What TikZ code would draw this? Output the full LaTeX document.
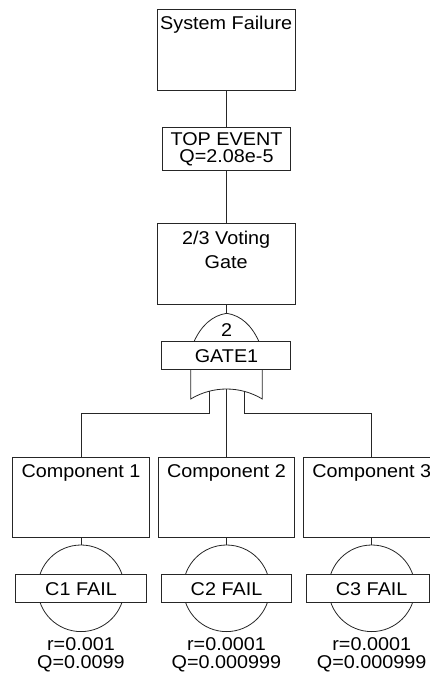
\documentclass[tikz,border=0pt]{standalone}
\usepackage{fontspec}
\setmainfont{Liberation Sans}[FakeStretch=1.07]
\begin{document}
\begin{tikzpicture}[x=1pt,y=1pt,
  line width=0.8pt, draw=black!85,
  box/.style={draw=black!85, line width=0.8pt, fill=white, rectangle, inner sep=0pt},
  txt/.style={inner sep=0pt, font=\fontsize{18.5}{17.2}\selectfont, align=center},
  lbl/.style={inner sep=0pt, font=\fontsize{18.5}{18.5}\selectfont, align=center},
  conn/.style={draw=black!85, line width=0.8pt}]
\useasboundingbox (0,0) rectangle (430,-675);
\begin{scope}
\clip (0,0) rectangle (430,-675);
% top event chain
\node[box, minimum width=137.7, minimum height=80.7] (sys) at (226.2,-50) {};
\node[txt] (syst) at (226.2,-24.5) {System Failure};
\node[box, minimum width=128.4, minimum height=43.4] (top) at (226.5,-149) {};
\node[txt] (topt) at (226.5,-149.4) {TOP EVENT\\Q=2.08e-5};
\node[box, minimum width=137.7, minimum height=80.7] (vote) at (226.2,-263.7) {};
\node[txt, font=\fontsize{18.5}{24}\selectfont] (votet) at (226.2,-249.9) {2/3 Voting\\Gate};
\coordinate (archtop) at (226.7,-313.3);
\coordinate (archL) at (194,-341.7);
\coordinate (archR) at (259,-341.7);
\draw[conn] (sys.south -| archtop) -- (top.north -| archtop);
\draw[conn] (top.south -| archtop) -- (vote.north -| archtop);
\draw[conn] (vote.south -| archtop) -- (archtop);
% gate
\draw[conn] (archL) .. controls (201,-326) and (212,-315.5) .. (archtop)
  .. controls (241.4,-315.5) and (252,-326) .. (archR);
\node[txt] (two) at (226.7,-330) {2};
\coordinate (gbL) at (190.7,-369);
\coordinate (gbR) at (262.3,-369);
\coordinate (gcL) at (190.7,-399);
\coordinate (gcR) at (262.3,-399);
\coordinate (gmid) at (226.5,-389);
\draw[conn] (gbL) -- (gcL) arc[start angle=121.2, end angle=58.8, radius=69.1] -- (gbR);
\node[box, minimum width=129, minimum height=27.3] (gate) at (226.2,-355.3) {};
\node[txt] (gatet) at (226.5,-356) {GATE1};
\coordinate (inL) at (209.3,-391.2);
\coordinate (inR) at (244,-391.2);
\coordinate (hL) at (209.3,-413.3);
\coordinate (hR) at (244,-413.3);
% components
\foreach \i/\x/\r/\q in {1/81/0.001/0.0099, 2/226.5/0.0001/0.000999, 3/371.7/0.0001/0.000999}{
  \node[box, minimum width=136.6, minimum height=80.4] (comp\i) at (\x,-497.5) {};
  \node[txt] (compt\i) at (\x,-473) {Component \i};
  \node[circle, draw=black!85, line width=0.8pt, minimum size=86.6, inner sep=0pt] (circ\i) at (\x,-588.3) {};
  \node[lbl] (val\i) at (\x,-654.8) {r=\r\\Q=\q};
  \draw[conn] (comp\i.south) -- (circ\i.north);
}
\node[box, minimum width=130.7, minimum height=28] (fail1) at (81,-588.3) {};
\node[box, minimum width=130.7, minimum height=28] (fail2) at (226.5,-588.3) {};
\node[box, minimum width=122.8, minimum height=28] (fail3) at (368.1,-588.3) {};
\foreach \i/\x in {1/81, 2/226.5, 3/371.7}{
  \node[txt] (failt\i) at (\x,-588.8) {C\i{} FAIL};
}
\draw[conn] (inL) -- (hL) -- (comp1.north |- hL) -- (comp1.north);
\draw[conn] (inR) -- (hR) -- (comp3.north |- hR) -- (comp3.north);
\draw[conn] (gmid) -- (comp2.north);
\end{scope}
\end{tikzpicture}
\end{document}
